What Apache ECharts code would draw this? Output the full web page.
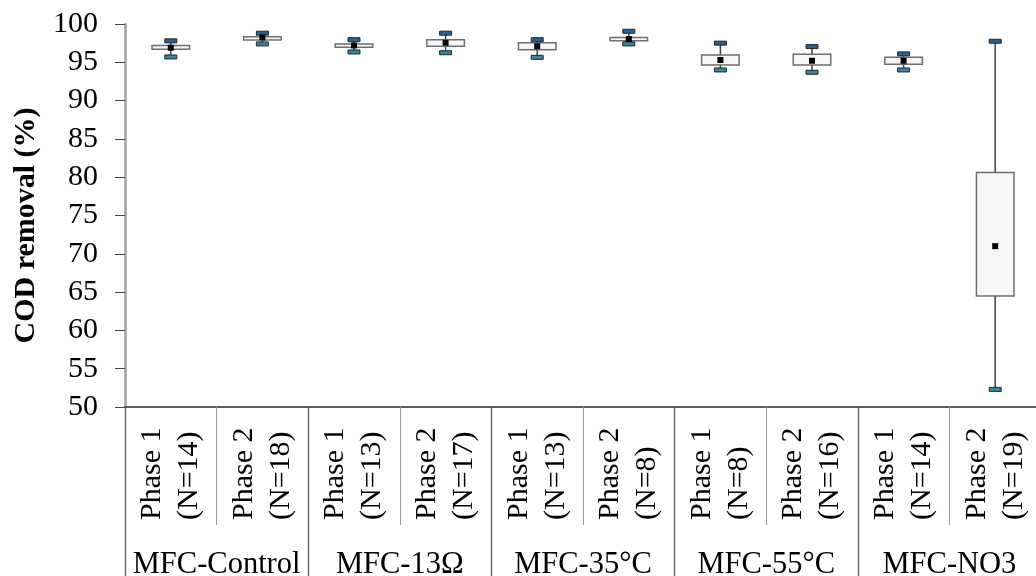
<!DOCTYPE html>
<html>
<head>
<meta charset="utf-8">
<script src="https://cdn.jsdelivr.net/npm/echarts@6/dist/echarts.min.js"></script>
<style>
  html, body { margin: 0; padding: 0; background: #fff; }
  #chart { width: 1036px; height: 576px; }
</style>
</head>
<body>
<div id="chart"></div>
<script>
// Per-reactor phases (inner axis) and reactor groups (outer axis)
const phaseLabels = [
  'Phase 1\n(N=14)', 'Phase 2\n(N=18)',
  'Phase 1\n(N=13)', 'Phase 2\n(N=17)',
  'Phase 1\n(N=13)', 'Phase 2\n(N=8)',
  'Phase 1\n(N=8)',  'Phase 2\n(N=16)',
  'Phase 1\n(N=14)', 'Phase 2\n(N=19)'
];
const groupLabels = ['MFC-Control', 'MFC-13Ω', 'MFC-35°C', 'MFC-55°C', 'MFC-NO3'];

// COD removal statistics (%)
const whiskerMin = [95.7, 97.4, 96.35, 96.25, 95.65, 97.4, 94.0, 93.7, 94.0, 52.3];
const quartile1  = [96.7, 97.9, 96.95, 97.1, 96.65, 97.8, 94.65, 94.65, 94.75, 64.5];
const quartile3  = [97.2, 98.35, 97.4, 97.95, 97.55, 98.25, 95.95, 96.05, 95.65, 80.6];
const whiskerMax = [97.8, 98.8, 97.95, 98.8, 97.95, 99.05, 97.5, 97.05, 96.1, 97.75];
const meanValue  = [96.9, 98.25, 97.2, 97.55, 97.1, 98.05, 95.3, 95.2, 95.2, 71.0];

const yTicks = { min: 50, max: 100, step: 5 };

const boxData = phaseLabels.map((_, i) =>
  [i, whiskerMin[i], quartile1[i], quartile3[i], whiskerMax[i], meanValue[i]]);

const serif = '"Liberation Serif", "Times New Roman", serif';

function renderBox(params, api) {
  const i = api.value(0);
  const band = api.size([1, 0])[0];
  const boxW = band * 0.41;
  const capW = 12, capH = 4;
  const lo = api.coord([i, api.value(1)]);
  const q1 = api.coord([i, api.value(2)]);
  const q3 = api.coord([i, api.value(3)]);
  const hi = api.coord([i, api.value(4)]);
  const mn = api.coord([i, api.value(5)]);
  const x = lo[0];
  const whisker = { stroke: '#404040', lineWidth: 1.5 };
  return {
    type: 'group',
    children: [
      { type: 'line', shape: { x1: x, y1: hi[1], x2: x, y2: q3[1] }, style: whisker },
      { type: 'line', shape: { x1: x, y1: q1[1], x2: x, y2: lo[1] }, style: whisker },
      { type: 'rect', shape: { x: x - boxW / 2, y: q3[1], width: boxW, height: q1[1] - q3[1] },
        style: { fill: '#f7f7f7', stroke: '#6e6e6e', lineWidth: 1.5 } },
      { type: 'rect', shape: { x: x - capW / 2, y: hi[1] - capH / 2, width: capW, height: capH },
        style: { fill: '#2b5f8c', stroke: '#1b2a36', lineWidth: 1 } },
      { type: 'rect', shape: { x: x - capW / 2, y: lo[1] - capH / 2, width: capW, height: capH },
        style: { fill: '#3b8598', stroke: '#1b2a36', lineWidth: 1 } },
      { type: 'rect', shape: { x: x - 3, y: mn[1] - 3, width: 6, height: 6 },
        style: { fill: '#000' } }
    ]
  };
}

const chart = echarts.init(document.getElementById('chart'), null, { renderer: 'canvas' });
chart.setOption({
  animation: false,
  backgroundColor: '#fff',
  grid: { left: 125, top: 24, width: 916, height: 383, containLabel: false, outerBoundsMode: 'none' },
  xAxis: [
    {
      type: 'category',
      data: phaseLabels,
      position: 'bottom',
      boundaryGap: true,
      axisLine: { show: true, lineStyle: { color: '#2a2a2a', width: 1.5 } },
      axisTick: { show: true, alignWithLabel: false, length: 118, interval: 0,
                  lineStyle: { color: '#9a9a9a', width: 1 } },
      axisLabel: {
        interval: 0, rotate: 90, margin: 113,
        align: 'left', verticalAlign: 'middle',
        fontFamily: serif, fontSize: 30, lineHeight: 37, color: '#000'
      },
      splitLine: { show: false }
    },
    {
      type: 'category',
      data: groupLabels,
      position: 'bottom',
      offset: 0,
      boundaryGap: true,
      axisLine: { show: false },
      axisTick: { show: true, alignWithLabel: false, length: 169, interval: 0,
                  lineStyle: { color: '#555', width: 1.3 } },
      axisLabel: {
        interval: 0, margin: 158, verticalAlign: 'middle',
        fontFamily: serif, fontSize: 30.5, color: '#000'
      },
      splitLine: { show: false }
    }
  ],
  yAxis: {
    type: 'value',
    min: yTicks.min, max: yTicks.max, interval: yTicks.step,
    name: 'COD removal (%)',
    nameLocation: 'middle',
    nameGap: 84,
    nameRotate: 90,
    nameTextStyle: { fontFamily: serif, fontSize: 30, fontWeight: 'bold', color: '#000',
                     padding: [0, 20, 0, 0] },
    axisLine: { show: true, lineStyle: { color: '#a0a0a0', width: 2.5 } },
    axisTick: { show: true, length: 10, lineStyle: { color: '#444', width: 1 } },
    axisLabel: { margin: 27, fontFamily: serif, fontSize: 30, color: '#000' },
    splitLine: { show: false }
  },
  series: [{
    type: 'custom',
    xAxisIndex: 0,
    renderItem: renderBox,
    encode: { x: 0, y: [1, 2, 3, 4, 5] },
    data: boxData,
    clip: false,
    z: 5
  }]
});
</script>
</body>
</html>
